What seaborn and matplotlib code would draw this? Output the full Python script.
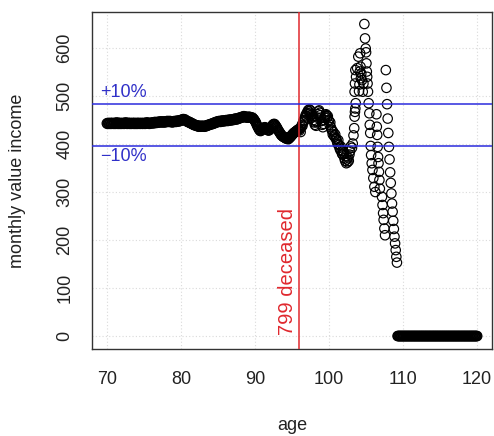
import numpy as np
import pandas as pd
import matplotlib
matplotlib.use("Agg")
import matplotlib.pyplot as plt
import seaborn as sns

# ---------------- data ----------------
# monthly readings, ages 70.00 .. 95.92 (one row per year)
flat_values = [
    443, 442, 444, 443, 442, 443, 444, 442, 443, 444, 443, 442,
    443, 444, 442, 443, 445, 443, 442, 444, 443, 442, 444, 443,
    442, 443, 444, 443, 442, 444, 443, 445, 443, 442, 443, 444,
    443, 442, 444, 443, 442, 443, 444, 443, 442, 444, 443, 442,
    443, 444, 442, 443, 444, 443, 442, 443, 444, 443, 442, 443,
    444, 443, 442, 444, 443, 445, 444, 443, 444, 442, 443, 444,
    444, 443, 445, 444, 443, 445, 446, 444, 445, 444, 446, 445,
    446, 445, 447, 446, 445, 447, 446, 445, 447, 446, 445, 446,
    447, 446, 448, 447, 446, 447, 448, 446, 447, 446, 445, 446,
    447, 446, 448, 447, 446, 448, 447, 449, 448, 447, 448, 449,
    450, 449, 451, 450, 452, 451, 450, 451, 449, 448, 447, 446,
    447, 445, 446, 444, 443, 444, 442, 441, 442, 440, 439, 440,
    439, 438, 439, 437, 438, 436, 437, 438, 436, 437, 438, 437,
    437, 438, 436, 437, 438, 437, 438, 439, 440, 439, 440, 441,
    441, 442, 441, 443, 442, 444, 443, 445, 444, 446, 445, 447,
    446, 447, 448, 447, 446, 448, 447, 449, 448, 447, 449, 448,
    449, 448, 450, 449, 448, 450, 449, 451, 450, 449, 451, 450,
    451, 450, 452, 451, 453, 452, 451, 453, 452, 454, 453, 455,
    454, 455, 456, 455, 457, 456, 458, 457, 456, 457, 456, 455,
    456, 455, 457, 456, 455, 456, 455, 454, 455, 453, 452, 450,
    448, 446, 443, 440, 437, 435, 432, 430, 428, 427, 428, 430,
    431, 432, 434, 433, 435, 434, 433, 432, 430, 429, 428, 429,
    430, 432, 434, 436, 438, 440, 441, 442, 441, 439, 437, 435,
    433, 430, 428, 426, 424, 422, 420, 418, 417, 416, 415, 414,
    414, 413, 412, 411, 412, 411, 410, 412, 413, 414, 416, 417,
    419, 420, 422, 423, 424, 425, 426, 427, 428, 429, 430, 431,
]
flat_ages = 70 + np.arange(len(flat_values)) / 12

# monthly readings, ages 96.00 .. 102.92
wiggle_values = [
    428, 432, 425, 435, 440, 438, 445, 450, 448, 455, 460, 458,
    465, 462, 470, 468, 472, 465, 470, 460, 455, 462, 458, 450,
    445, 440, 448, 438, 445, 455, 462, 468, 470, 465, 460, 455,
    448, 440, 435, 442, 450, 455, 458, 462, 460, 455, 458, 450,
    448, 440, 445, 435, 430, 428, 420, 425, 418, 415, 420, 412,
    410, 405, 400, 408, 398, 392, 388, 395, 385, 380, 378, 385,
    380, 370, 365, 375, 360, 368, 362, 372, 365, 378, 385, 395,
]
wiggle_ages = 96 + np.arange(len(wiggle_values)) / 12

# individually visible circles, ages 103.1 .. 107.6
scatter_ages = [
    103.10, 103.20, 103.30, 103.40, 103.45, 103.50, 103.55, 103.60, 103.45, 103.50,
    103.55, 103.65, 103.80, 103.95, 104.05, 104.10, 104.15, 104.20, 104.25, 104.30,
    104.35, 104.45, 104.55, 104.64, 104.77, 104.86, 104.95, 105.00, 105.05, 105.10,
    105.15, 105.20, 105.26, 105.35, 105.44, 105.50, 105.56, 105.62, 105.68, 105.76,
    105.86, 105.98, 106.12, 106.25, 106.40, 106.45, 106.50, 106.56, 106.62, 106.68,
    106.74, 106.80, 106.86, 107.15, 107.22, 107.30, 107.37, 107.47, 107.56,
]
scatter_values = [
    392, 401, 418, 433, 457, 467, 474, 485, 509, 526,
    554, 540, 558, 582, 510, 524, 551, 589, 561, 537,
    547, 533, 509, 526, 650, 620, 599, 591, 568, 551,
    540, 526, 509, 485, 464, 440, 423, 396, 377, 360,
    346, 329, 311, 300, 462, 436, 419, 394, 373, 360,
    342, 325, 307, 290, 273, 256, 242, 224, 210,
]

# last descending chain, monthly from age 107.67
tail_values = [554, 517, 483, 453, 423, 394, 368, 341, 319, 297,
               276, 259, 240, 223, 207, 193, 179, 165, 153]
tail_ages = 107 + 8 / 12 + np.arange(len(tail_values)) / 12

# everyone deceased: zero income, monthly from age 109.25 to 120
zero_values = [0] * 130
zero_ages = 109.25 + np.arange(len(zero_values)) / 12

band_values = [484, 396]          # +10% / -10% lines
band_labels = ["+10%", "\u221210%"]
deceased_age = 96
deceased_label = "799 deceased"
x_ticks = [70, 80, 90, 100, 110, 120]
y_ticks = [0, 100, 200, 300, 400, 500, 600]

df = pd.DataFrame({
    "age": np.concatenate([flat_ages, wiggle_ages, scatter_ages, tail_ages, zero_ages]),
    "income": np.concatenate([flat_values, wiggle_values, scatter_values, tail_values, zero_values]),
})

# ---------------- plot ----------------
sns.set_style("white")
plt.rcParams["font.family"] = ["Liberation Sans", "DejaVu Sans"]
FS = 13

fig = plt.figure(figsize=(4.94, 4.36), dpi=100)
ax = fig.add_axes([92 / 494, 1 - 349 / 436, 400 / 494, 337 / 436])

ax.set_xlim(68, 122)
ax.set_ylim(-27, 675)

for t in x_ticks:
    ax.axvline(t, color="#dadada", lw=0.8, ls=(0, (1, 2)), zorder=0)
for t in y_ticks:
    ax.axhline(t, color="#dadada", lw=0.8, ls=(0, (1, 2)), zorder=0)

sns.scatterplot(data=df, x="age", y="income", ax=ax, marker="o", s=46,
                facecolors="none", edgecolor="black", linewidth=0.85, zorder=2)

ax.axvline(deceased_age, color="#e0282e", lw=1.1, zorder=3)
ax.text(deceased_age - 0.3, 2, deceased_label, rotation=90, color="#e0282e",
        ha="right", va="bottom", fontsize=14.5, zorder=4)

for v in band_values:
    ax.axhline(v, color="#2b2bdc", lw=1.1, zorder=3)
ax.text(69.1, band_values[0] + 5, band_labels[0], color="#3030c8",
        ha="left", va="bottom", fontsize=FS)
ax.text(69.1, band_values[1] - 5, band_labels[1], color="#3030c8",
        ha="left", va="top", fontsize=FS)

ax.set_xticks(x_ticks)
ax.set_yticks(y_ticks)
ax.tick_params(axis="both", direction="out", length=5.5, width=0.9,
               color="#222222", labelsize=FS, labelcolor="#222222")
ax.tick_params(axis="x", pad=10)
ax.tick_params(axis="y", pad=8, labelrotation=90)
for lab in ax.get_yticklabels():
    lab.set_va("center")

for s in ax.spines.values():
    s.set_visible(True)
    s.set_color("#333333")
    s.set_linewidth(1.0)

ax.set_xlabel("age", fontsize=FS, color="#222222")
ax.set_ylabel("monthly value income", fontsize=FS, color="#222222")
ax.xaxis.set_label_coords(0.5, -(425 - 349) / 337)
ax.yaxis.set_label_coords(-(92 - 18) / 400, 0.5)
ax.xaxis.label.set_va("center")
ax.yaxis.label.set_va("center")

fig.savefig("out.png", dpi=100)
